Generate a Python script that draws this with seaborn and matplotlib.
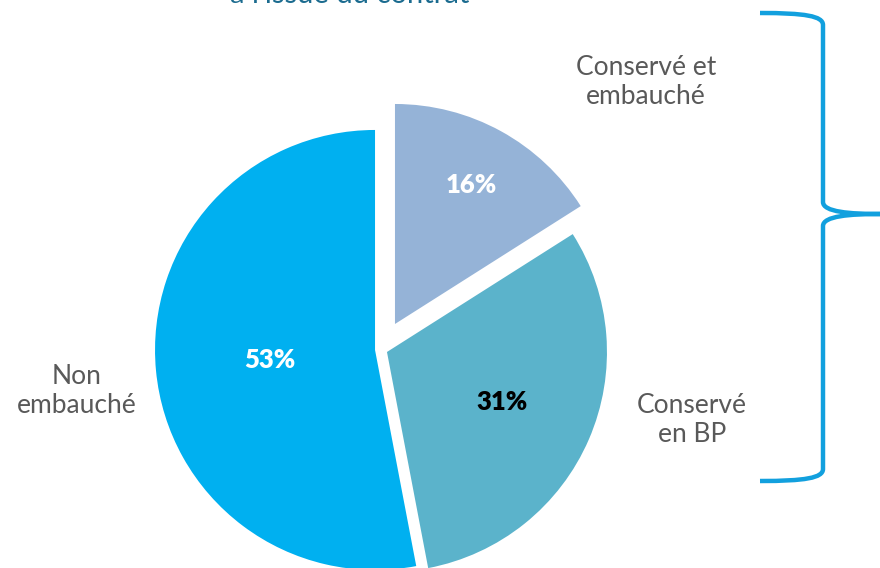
import matplotlib
matplotlib.use("Agg")
import matplotlib.pyplot as plt
from matplotlib.path import Path
from matplotlib.patches import PathPatch
import numpy as np
import seaborn as sns

# ---- data ----
categories = ["Conservé et\nembauché", "Conservé\nen BP", "Non\nembauché"]
values = [16, 31, 53]
pct_labels = ["16%", "31%", "53%"]
title_text = "à l'issue du contrat"

# ---- style ----
sns.set_theme(style="white")
plt.rcParams['font.family'] = ['Lato', 'DejaVu Sans']

colors = ["#95B3D7", "#5BB3CB", "#00B0F0"]
explode = [29, 6.5, 6]          # offsets in data units (pixels)
pct_colors = ["white", "black", "white"]
pct_dist = [0.72, 0.57, 0.48]

W, H = 880, 568
fig = plt.figure(figsize=(W / 100, H / 100), dpi=100)
ax = fig.add_axes([0, 0, 1, 1])

wedges, _ = ax.pie(values, colors=colors, explode=explode, startangle=90,
                   counterclock=False, radius=220, center=(381, 218.6),
                   wedgeprops=dict(linewidth=0))
ax.set_xlim(0, W)
ax.set_ylim(0, H)
ax.set_aspect("equal")
ax.axis("off")

# percentage labels placed from wedge geometry
for w, lab, c, d in zip(wedges, pct_labels, pct_colors, pct_dist):
    ang = np.deg2rad((w.theta1 + w.theta2) / 2)
    x = w.center[0] + d * w.r * np.cos(ang)
    y = w.center[1] + d * w.r * np.sin(ang)
    ax.text(x, y, lab, ha="center", va="center", fontsize=18.5,
            fontweight="heavy", color=c)

# category labels
label_pos = [(646, 568 - 82), (692, 568 - 420), (77, 568 - 391)]
for lab, (x, y) in zip(categories, label_pos):
    ax.text(x, y, lab, ha="center", va="center", fontsize=19,
            color="#595959", linespacing=1.2)

# partially visible title
ax.text(350, H - 3, title_text, ha="center", va="baseline", fontsize=21,
        color="#1B6B8F")

# right curly bracket
bc = "#12A0DE"
top, mid, bot = H - 13, H - 214, H - 481
xl, xv, xr = 760, 823, 880
verts = [
    (xl, top), (805, top), (xv, top - 3), (xv, top - 12),
    (xv, mid + 12),
    (xv, mid + 2), (850, mid), (xr, mid),
    (850, mid), (xv, mid - 2), (xv, mid - 12),
    (xv, bot + 12),
    (xv, bot + 3), (805, bot), (xl, bot),
]
codes = [Path.MOVETO, Path.CURVE4, Path.CURVE4, Path.CURVE4,
         Path.LINETO,
         Path.CURVE4, Path.CURVE4, Path.CURVE4,
         Path.CURVE4, Path.CURVE4, Path.CURVE4,
         Path.LINETO,
         Path.CURVE4, Path.CURVE4, Path.CURVE4]
ax.add_patch(PathPatch(Path(verts, codes), fill=False, edgecolor=bc,
                       linewidth=3.2, capstyle="butt", joinstyle="round"))

fig.savefig("out.png", dpi=100)
